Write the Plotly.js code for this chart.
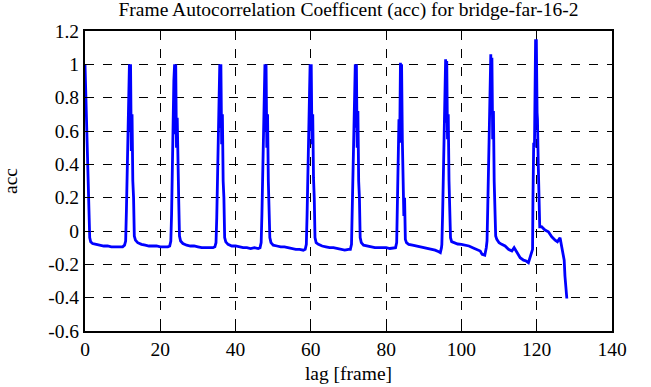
<!DOCTYPE html>
<html>
<head>
<meta charset="utf-8">
<script src="https://cdn.plot.ly/plotly-3.0.1.min.js"></script>
<style>html,body{margin:0;padding:0;background:#fff;}#chart{width:651px;height:387px;}</style>
</head>
<body>
<div id="chart"></div>
<script>
// lag [frame]
var lag = [
 0, 0.25, 0.5, 0.75, 1.0, 1.25, 1.5, 2, 3, 4, 5, 6, 7, 8, 9, 10, 10.5,
 10.8, 11.0, 11.2, 11.4, 11.6, 11.8, 11.9, 12.1, 12.3, 12.5, 12.7, 12.9, 13.1, 13.4, 14, 15, 16, 17, 18, 19, 20, 21, 22, 22.5,
 22.8, 23.0, 23.2, 23.4, 23.6, 23.8, 23.9, 24.1, 24.3, 24.5, 24.7, 24.9, 25.1, 25.4, 26, 27, 28, 29, 30, 31, 32, 33, 34, 34.5,
 34.8, 35.0, 35.2, 35.4, 35.6, 35.8, 35.9, 36.1, 36.3, 36.5, 36.7, 36.9, 37.1, 37.4, 38, 39, 40, 41, 42, 43, 44, 45, 46, 46.5,
 46.8, 47.0, 47.2, 47.4, 47.6, 47.8, 47.9, 48.1, 48.3, 48.5, 48.7, 48.9, 49.1, 49.4, 50, 51, 52, 53, 54, 55, 56, 57, 58, 58.5,
 58.8, 59.0, 59.2, 59.4, 59.6, 59.8, 59.9, 60.1, 60.3, 60.5, 60.7, 60.9, 61.1, 61.4, 62, 63, 64, 65, 66, 67, 68, 69, 70, 70.5,
 70.8, 71.0, 71.2, 71.4, 71.6, 71.8, 71.9, 72.1, 72.3, 72.5, 72.7, 72.9, 73.1, 73.4, 74, 75, 76, 77, 78, 79, 80, 81, 82, 82.5,
 82.8, 83.0, 83.2, 83.4, 83.6, 83.8, 83.9, 84.1, 84.3, 84.5, 84.7, 84.9, 85.1, 85.4, 86, 87, 88, 89, 90, 91, 92, 93, 94, 94.4, 94.7,
 94.8, 95.0, 95.2, 95.4, 95.6, 95.8, 95.9, 96.1, 96.3, 96.5, 96.7, 96.9, 97.1, 97.4, 98, 98.5, 99, 100, 101, 102, 103, 104, 105, 105.5, 106.2, 106.6,
 106.8, 107.0, 107.2, 107.4, 107.6, 107.8, 107.9, 108.1, 108.3, 108.5, 108.7, 108.9, 109.1, 109.4, 110, 110.7, 111.6, 112.5, 113.4, 114, 114.7, 115.6, 116.5, 117.2, 117.8, 118.2, 118.6,
 118.9, 119.0, 119.2, 119.4, 119.5, 119.7, 119.8, 119.9, 120.1, 120.2, 120.4, 120.6, 120.8, 121.3, 122.2, 123.1, 124, 124.9, 125.5, 126.2, 126.6, 127.3, 127.5, 127.9, 128
];
// frame autocorrelation coefficient
var acc = [
 1.0, 0.78, 0.52, 0.3, 0.12, -0.04, -0.065, -0.075, -0.08, -0.085, -0.09, -0.09, -0.095, -0.095, -0.095, -0.095, -0.085,
 -0.06, 0.12, 0.38, 0.55, 0.85, 1.0, 0.6, 1.0, 0.48, 0.7, 0.3, 0.2, -0.03, -0.055, -0.07, -0.08, -0.085, -0.09, -0.09, -0.09, -0.095, -0.095, -0.095, -0.09,
 -0.06, 0.1, 0.4, 0.58, 0.9, 1.0, 0.58, 1.0, 0.5, 0.68, 0.32, 0.18, -0.03, -0.06, -0.075, -0.085, -0.09, -0.09, -0.095, -0.1, -0.1, -0.1, -0.1, -0.095,
 -0.07, 0.08, 0.38, 0.55, 0.88, 1.0, 0.62, 1.0, 0.52, 0.7, 0.3, 0.2, -0.04, -0.065, -0.08, -0.09, -0.09, -0.095, -0.1, -0.1, -0.105, -0.1, -0.105, -0.1,
 -0.07, 0.1, 0.36, 0.56, 0.86, 1.0, 0.6, 1.0, 0.5, 0.7, 0.3, 0.18, -0.04, -0.07, -0.085, -0.09, -0.095, -0.095, -0.1, -0.105, -0.11, -0.11, -0.115, -0.11,
 -0.08, 0.1, 0.38, 0.58, 0.88, 1.0, 0.6, 1.0, 0.52, 0.7, 0.32, 0.2, -0.04, -0.07, -0.08, -0.09, -0.095, -0.1, -0.1, -0.105, -0.11, -0.115, -0.11, -0.11,
 -0.08, 0.12, 0.4, 0.58, 0.9, 1.0, 0.62, 1.0, 0.5, 0.72, 0.3, 0.2, -0.04, -0.07, -0.085, -0.09, -0.095, -0.1, -0.1, -0.1, -0.1, -0.105, -0.1, -0.1,
 -0.07, 0.18, 0.37, 0.67, 0.53, 1.01, 0.75, 1.0, 0.55, 0.32, 0.09, 0.2, -0.05, -0.07, -0.08, -0.085, -0.09, -0.095, -0.1, -0.105, -0.11, -0.115, -0.125, -0.13, -0.1,
 -0.08, 0.1, 0.38, 0.62, 0.92, 1.03, 0.65, 1.02, 0.55, 0.7, 0.3, 0.15, -0.04, -0.064, -0.07, -0.075, -0.078, -0.08, -0.085, -0.09, -0.1, -0.11, -0.12, -0.14, -0.145, -0.1,
 -0.06, 0.15, 0.4, 0.62, 0.9, 1.06, 0.7, 1.04, 0.55, 0.72, 0.3, 0.15, -0.03, -0.05, -0.07, -0.08, -0.09, -0.11, -0.12, -0.1, -0.13, -0.16, -0.175, -0.18, -0.19, -0.16, -0.12,
 -0.11, 0.19, 0.53, 0.5, 0.87, 1.15, 0.95, 1.15, 0.71, 0.67, 0.41, 0.23, 0.025, 0.026, 0.006, -0.005, -0.035, -0.055, -0.065, -0.04, -0.095, -0.175, -0.27, -0.39, -0.405
];
var xTicks = [0, 20, 40, 60, 80, 100, 120, 140];
var xTickText = ["0", "20", "40", "60", "80", "100", "120", "140"];
var yTicks = [-0.6, -0.4, -0.2, 0, 0.2, 0.4, 0.6, 0.8, 1.0, 1.2];
var yTickText = ["-0.6", "-0.4", "-0.2", "0", "0.2", "0.4", "0.6", "0.8", "1", "1.2"];

var serif = "Liberation Serif, Times New Roman, serif";
var trace = {
  x: lag, y: acc, type: "scatter", mode: "lines",
  line: {color: "#0000ff", width: 2.8},
  hoverinfo: "skip"
};
var axisCommon = {
  showline: true, linecolor: "#000", linewidth: 2, mirror: "ticks",
  ticks: "inside", ticklen: 5, tickwidth: 1, tickcolor: "#000",
  showgrid: true, gridcolor: "#000", gridwidth: 1, griddash: "dash",
  zeroline: false, tickfont: {family: serif, size: 19.5, color: "#000"},
  tickmode: "array"
};
var layout = {
  width: 651, height: 387,
  margin: {l: 85, r: 39, t: 31, b: 56},
  paper_bgcolor: "#fff", plot_bgcolor: "#fff",
  showlegend: false,
  title: {text: "Frame Autocorrelation Coefficent (acc) for bridge-far-16-2",
          font: {family: serif, size: 19.5, color: "#000"},
          xref: "paper", x: 0.5, xanchor: "center",
          yref: "container", y: 0.995, yanchor: "top"},
  xaxis: Object.assign({}, axisCommon, {range: [0, 140], tickvals: xTicks, ticktext: xTickText,
          title: {text: "lag [frame]", font: {family: serif, size: 19.5, color: "#000"}, standoff: 7}}),
  yaxis: Object.assign({}, axisCommon, {range: [-0.6, 1.2], tickvals: yTicks, ticktext: yTickText,
          title: {text: "acc", font: {family: serif, size: 19.5, color: "#000"}, standoff: 28}})
};
Plotly.newPlot("chart", [trace], layout, {displayModeBar: false, staticPlot: true});
</script>
</body>
</html>
